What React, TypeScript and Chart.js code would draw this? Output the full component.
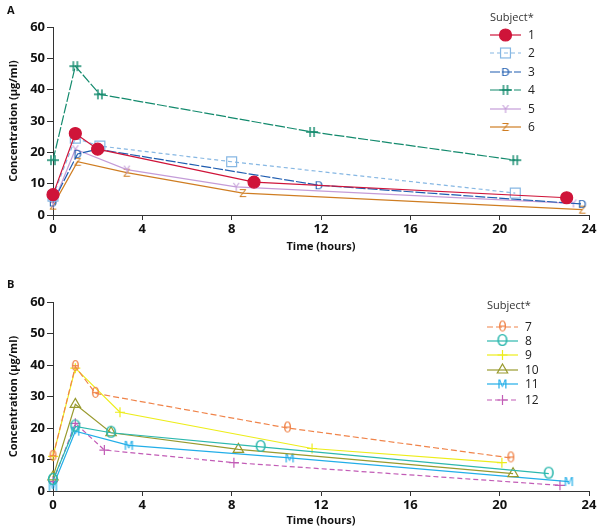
import React, { useEffect, useRef } from "react";
import { Chart, registerables } from "chart.js";
Chart.register(...registerables);

// ---------- Data ----------
const xTicks = [0, 4, 8, 12, 16, 20, 24];
const yTicks = [0, 10, 20, 30, 40, 50, 60];

const s1Time = [0, 1, 2, 9, 23];
const s1Conc = [6.5, 26, 21, 10.5, 5.5];
const s2Time = [0, 1, 2.1, 8, 20.7];
const s2Conc = [6, 24.5, 22, 17, 7];
const s3Time = [0, 1.1, 2, 11.9, 23.7];
const s3Conc = [4, 19.5, 21, 9.5, 3.5];
const s4Time = [0, 1, 2.1, 11.6, 20.7];
const s4Conc = [17.5, 47.5, 38.5, 26.5, 17.5];
const s5Time = [0, 1, 3.3, 8.2, 23.3];
const s5Conc = [3.5, 21, 14.5, 9, 3.7];
const s6Time = [0, 1.1, 3.3, 8.5, 23.7];
const s6Conc = [3, 17, 13.5, 7, 1.7];

const s7Time = [0, 1, 1.9, 10.5, 20.5];
const s7Conc = [11, 39.5, 31, 20, 10.5];
const s8Time = [0, 1, 2.6, 9.3, 22.2];
const s8Conc = [3.5, 20.5, 18.5, 14, 5.5];
const s9Time = [0, 1, 3, 11.6, 20.1];
const s9Conc = [11, 39, 25, 13.5, 9];
const s10Time = [0, 1, 2.6, 8.3, 20.6];
const s10Conc = [4.5, 27.5, 18.5, 13.2, 5.5];
const s11Time = [0, 1, 3.4, 10.6, 23.1];
const s11Conc = [1.5, 19, 14.5, 10.5, 3];
const s12Time = [0, 1, 2.3, 8.1, 22.7];
const s12Conc = [3, 21.5, 13, 9, 1.8];

const subjectsA = ["1", "2", "3", "4", "5", "6"];
const subjectsB = ["7", "8", "9", "10", "11", "12"];

// ---------- Marker helpers ----------
function glyph(text: string, color: string, size: number, weight = "normal"): HTMLCanvasElement {
  const c = document.createElement("canvas");
  const w = Math.ceil(size * 1.2);
  c.width = w;
  c.height = w;
  const ctx = c.getContext("2d")!;
  ctx.fillStyle = color;
  ctx.font = `${weight} ${size}px "DejaVu Sans", sans-serif`;
  ctx.textAlign = "center";
  ctx.textBaseline = "middle";
  ctx.fillText(text, w / 2, w / 2 + 1);
  return c;
}
function doubleCross(color: string): HTMLCanvasElement {
  const c = document.createElement("canvas");
  c.width = 14;
  c.height = 14;
  const ctx = c.getContext("2d")!;
  ctx.strokeStyle = color;
  ctx.lineWidth = 1.4;
  ctx.beginPath();
  ctx.moveTo(1, 7);
  ctx.lineTo(13, 7);
  ctx.moveTo(5, 2);
  ctx.lineTo(5, 12);
  ctx.moveTo(9, 2);
  ctx.lineTo(9, 12);
  ctx.stroke();
  return c;
}

function pts(t: number[], c: number[]) {
  return t.map((x, i) => ({ x, y: c[i] }));
}

type Spec = {
  label: string;
  t: number[];
  c: number[];
  color: string;
  dash: number[];
  style: any;
  radius: number;
  fill?: boolean;
};

function makeDataset(s: Spec) {
  return {
    label: s.label,
    data: pts(s.t, s.c),
    borderColor: s.color,
    backgroundColor: s.fill ? s.color : "rgba(255,255,255,0)",
    borderWidth: 1.2,
    borderDash: s.dash,
    pointStyle: s.style,
    pointRadius: s.radius,
    pointBorderWidth: 1.2,
    pointBorderColor: s.color,
    pointBackgroundColor: s.fill ? s.color : "rgba(255,255,255,0)",
    tension: 0,
    clip: false as any,
  };
}

function drawMarker(ctx: CanvasRenderingContext2D, s: Spec, x: number, y: number) {
  ctx.save();
  ctx.setLineDash([]);
  ctx.strokeStyle = s.color;
  ctx.fillStyle = s.color;
  ctx.lineWidth = 1.2;
  const r = s.radius;
  if (s.style instanceof HTMLCanvasElement) {
    ctx.drawImage(s.style, x - s.style.width / 2, y - s.style.height / 2);
  } else if (s.style === "circle") {
    ctx.beginPath();
    ctx.arc(x, y, r, 0, Math.PI * 2);
    if (s.fill) ctx.fill();
    ctx.stroke();
  } else if (s.style === "rect") {
    const h = r * Math.SQRT1_2;
    ctx.strokeRect(x - h, y - h, h * 2, h * 2);
  } else if (s.style === "triangle") {
    ctx.beginPath();
    ctx.moveTo(x, y - r);
    ctx.lineTo(x + r * 0.866, y + r * 0.5);
    ctx.lineTo(x - r * 0.866, y + r * 0.5);
    ctx.closePath();
    ctx.stroke();
  } else if (s.style === "cross") {
    ctx.beginPath();
    ctx.moveTo(x - r, y);
    ctx.lineTo(x + r, y);
    ctx.moveTo(x, y - r);
    ctx.lineTo(x, y + r);
    ctx.stroke();
  }
  ctx.restore();
}

const FONT = '"Open Sans", "Noto Sans", sans-serif';

function buildConfig(
  specs: Spec[],
  panel: string,
  panelY: number,
  legend: { x: number; titleY: number; ys: number[] },
  padTop: number,
  axisH: number
): any {
  const overlay = {
    id: "overlay" + panel,
    afterDraw(chart: any) {
      const ctx: CanvasRenderingContext2D = chart.ctx;
      ctx.save();
      ctx.fillStyle = "#111";
      ctx.font = `bold 11px ${FONT}`;
      ctx.textBaseline = "middle";
      ctx.textAlign = "left";
      ctx.fillText(panel, 7, panelY);
      // legend
      ctx.fillStyle = "#333";
      ctx.font = `11px ${FONT}`;
      ctx.fillText("Subject*", legend.x, legend.titleY);
      specs.forEach((s, i) => {
        const y = legend.ys[i];
        ctx.save();
        ctx.strokeStyle = s.color;
        ctx.lineWidth = 1.2;
        ctx.setLineDash(s.dash);
        ctx.beginPath();
        ctx.moveTo(legend.x, y);
        ctx.lineTo(legend.x + 31, y);
        ctx.stroke();
        ctx.restore();
        drawMarker(ctx, s, legend.x + 15.5, y);
        ctx.fillStyle = "#222";
        ctx.font = `12px ${FONT}`;
        ctx.fillText(s.label, legend.x + 38, y + 1);
      });
      ctx.restore();
    },
  };
  return {
    type: "line",
    data: { datasets: specs.map(makeDataset) },
    options: {
      responsive: false,
      animation: false,
      events: [],
      layout: { padding: { top: padTop, right: 11, left: 0, bottom: 0 } },
      plugins: { legend: { display: false }, tooltip: { enabled: false } },
      scales: {
        x: {
          type: "linear",
          min: 0,
          max: 24,
          afterBuildTicks(scale: any) {
            scale.ticks = xTicks.map((v) => ({ value: v }));
          },
          afterFit(scale: any) {
            scale.height = axisH;
          },
          grid: { drawOnChartArea: false, drawTicks: true, tickLength: 5, color: "#333" },
          border: { color: "#333", width: 1 },
          ticks: { color: "#111", font: { family: FONT, size: 13, weight: "bold" }, padding: 1, maxRotation: 0 },
          title: {
            display: true,
            text: "Time (hours)",
            color: "#111",
            font: { family: FONT, size: 11, weight: "bold" },
            padding: { top: 0, bottom: 2 },
          },
        },
        y: {
          type: "linear",
          min: 0,
          max: 60,
          afterBuildTicks(scale: any) {
            scale.ticks = yTicks.map((v) => ({ value: v }));
          },
          afterFit(scale: any) {
            scale.width = 53;
          },
          grid: { drawOnChartArea: false, drawTicks: true, tickLength: 6, color: "#333" },
          border: { color: "#333", width: 1 },
          ticks: { color: "#111", font: { family: FONT, size: 13, weight: "bold" }, padding: 2 },
          title: {
            display: true,
            text: "Concentration (µg/ml)",
            color: "#111",
            font: { family: FONT, size: 11, weight: "bold" },
            padding: { top: 7, bottom: 0 },
          },
        },
      },
    },
    plugins: [overlay],
  };
}

function Panel({ cfg, top, height }: { cfg: any; top: number; height: number }) {
  const ref = useRef<HTMLCanvasElement>(null);
  useEffect(() => {
    const chart = new Chart(ref.current!, cfg);
    return () => chart.destroy();
  }, []);
  return (
    <canvas
      ref={ref}
      width={600}
      height={height}
      style={{ position: "absolute", left: 0, top, width: 600, height }}
    />
  );
}

export default function App() {
  const specsA: Spec[] = [
    { label: subjectsA[0], t: s1Time, c: s1Conc, color: "#cf1439", dash: [], style: "circle", radius: 6, fill: true },
    { label: subjectsA[1], t: s2Time, c: s2Conc, color: "#86b7e3", dash: [4, 3], style: "rect", radius: 7 },
    { label: subjectsA[2], t: s3Time, c: s3Conc, color: "#1f5db0", dash: [10, 2], style: glyph("D", "#1f5db0", 11), radius: 6 },
    { label: subjectsA[3], t: s4Time, c: s4Conc, color: "#138a6d", dash: [10, 2], style: doubleCross("#138a6d"), radius: 6 },
    { label: subjectsA[4], t: s5Time, c: s5Conc, color: "#c49cd8", dash: [], style: glyph("Y", "#c49cd8", 11), radius: 6 },
    { label: subjectsA[5], t: s6Time, c: s6Conc, color: "#cf7d22", dash: [], style: glyph("Z", "#cf7d22", 11), radius: 6 },
  ];
  const specsB: Spec[] = [
    { label: subjectsB[0], t: s7Time, c: s7Conc, color: "#f0844a", dash: [6, 3], style: glyph("θ", "#f0844a", 14), radius: 7 },
    { label: subjectsB[1], t: s8Time, c: s8Conc, color: "#2cb8ae", dash: [], style: glyph("O", "#2cb8ae", 15), radius: 7 },
    { label: subjectsB[2], t: s9Time, c: s9Conc, color: "#eded1a", dash: [], style: "cross", radius: 5 },
    { label: subjectsB[3], t: s10Time, c: s10Conc, color: "#999a2e", dash: [], style: "triangle", radius: 6 },
    { label: subjectsB[4], t: s11Time, c: s11Conc, color: "#22aee8", dash: [], style: glyph("M", "#22aee8", 12), radius: 6 },
    { label: subjectsB[5], t: s12Time, c: s12Conc, color: "#c25cb6", dash: [5, 3], style: "cross", radius: 5 },
  ];
  const cfgA = buildConfig(specsA, "A", 11, { x: 490, titleY: 18, ys: [35, 53, 72, 90, 109, 127] }, 27, 40);
  const cfgB = buildConfig(specsB, "B", 30, { x: 487, titleY: 51, ys: [72, 86, 100, 115, 129, 145] }, 47, 38);
  return (
    <div style={{ position: "fixed", left: 0, top: 0, width: 600, height: 529, background: "#fff" }}>
      <Panel cfg={cfgA} top={0} height={255} />
      <Panel cfg={cfgB} top={255} height={274} />
    </div>
  );
}
